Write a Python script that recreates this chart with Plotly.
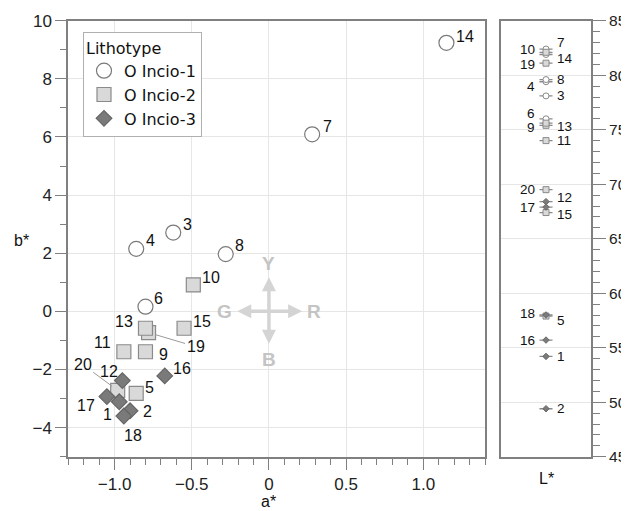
import plotly.graph_objects as go

# ---------------- data ----------------
inc1_ids = ["3", "4", "6", "7", "8", "14"]
inc1_a = [-0.62, -0.86, -0.80, 0.28, -0.28, 1.15]
inc1_b = [2.71, 2.15, 0.16, 6.09, 1.97, 9.24]
inc1_L = [78.1, 79.4, 76.0, 82.4, 79.6, 81.9]

inc2_ids = ["5", "9", "10", "11", "19", "13", "15", "20"]
inc2_a = [-0.86, -0.80, -0.49, -0.94, -0.78, -0.80, -0.55, -0.98]
inc2_b = [-2.82, -1.39, 0.91, -1.39, -0.73, -0.58, -0.58, -2.72]
inc2_L = [57.9, 75.4, 82.1, 74.0, 81.1, 75.6, 67.4, 69.5]

inc3_ids = ["1", "2", "12", "16", "17", "18"]
inc3_a = [-0.97, -0.90, -0.95, -0.675, -1.05, -0.94]
inc3_b = [-3.11, -3.42, -2.38, -2.22, -2.93, -3.60]
inc3_L = [54.2, 49.4, 68.4, 55.7, 67.9, 58.0]

group_names = ["O Incio-1", "O Incio-2", "O Incio-3"]
x_tickvals = [-1.0, -0.5, 0, 0.5, 1.0]
x_ticktext = ["\u22121.0", "\u22120.5", "0", "0.5", "1.0"]

# ---------------- styles ----------------
FONT = "Liberation Sans, Arial, sans-serif"
LFONT = "DejaVu Sans, sans-serif"
AX = "#808080"
GRID = "#e6e6e6"
styles = [
    dict(symbol="circle", size=15, color="white", line=dict(color="#7a7a7a", width=1.2)),
    dict(symbol="square", size=14, color="#d9d9d9", line=dict(color="#8a8a8a", width=1.2)),
    dict(symbol="diamond", size=12, color="#7a7a7a", line=dict(color="#666666", width=1.2)),
]
small_styles = [
    dict(symbol="circle", size=6, color="white", line=dict(color="#8a8a8a", width=1)),
    dict(symbol="square", size=6, color="#d9d9d9", line=dict(color="#8a8a8a", width=1)),
    dict(symbol="diamond", size=5, color="#7a7a7a", line=dict(color="#6a6a6a", width=1)),
]
# label offsets (px) in main plot, relative to marker centre
main_off = {
    "14": (19, -6), "7": (15, -8), "4": (14, -8), "3": (14, -8), "8": (14, -9),
    "10": (18, -7), "6": (13, -8), "13": (-21, -7), "15": (18, -7),
    "11": (-21, -9), "9": (18, 3), "16": (17, -7), "12": (-13, -9),
    "5": (13, -6), "17": (-21, 9), "1": (-12, 13), "2": (17, 1), "18": (9, 19),
}
leader = {"19": (47, 14), "20": (-35, -26)}
# L* panel labels: side and vertical shift (px)
L_off = {
    "7": ("r", -7), "10": ("l", -3), "14": ("r", 4), "19": ("l", 1),
    "8": ("r", 0), "4": ("l", 5), "3": ("r", 0), "6": ("l", -5),
    "9": ("l", 2), "13": ("r", 3), "11": ("r", 0), "20": ("l", 0),
    "12": ("r", -4), "17": ("l", 0), "15": ("r", 2), "18": ("l", -2),
    "5": ("r", 4), "16": ("l", 0), "1": ("r", 0), "2": ("r", 0),
}

# page has an 8px body margin: lay out in page pixels, convert with OFF
OFF = 8
W, H = 629 - OFF, 511 - OFF


def px(xp):
    return (xp - OFF) / W


def py(yp):
    return 1 - (yp - OFF) / H


fig = go.Figure()

groups = [(inc1_ids, inc1_a, inc1_b, inc1_L), (inc2_ids, inc2_a, inc2_b, inc2_L),
          (inc3_ids, inc3_a, inc3_b, inc3_L)]

annotations = []
for gi, (ids, a, b, L) in enumerate(groups):
    fig.add_trace(go.Scatter(x=a, y=b, mode="markers", name=group_names[gi],
                             marker=styles[gi], xaxis="x", yaxis="y",
                             hoverinfo="skip"))
    fig.add_trace(go.Scatter(x=[0] * len(L), y=L, mode="markers", showlegend=False,
                             marker=small_styles[gi], xaxis="x2", yaxis="y2",
                             error_x=dict(type="constant", value=0.145, width=0,
                                          thickness=1.3, color="#8a8a8a"),
                             hoverinfo="skip"))
    for sid, av, bv, lv in zip(ids, a, b, L):
        if sid in leader:
            dx, dy = leader[sid]
            annotations.append(dict(x=av, y=bv, xref="x", yref="y", text=sid,
                                    showarrow=True, arrowhead=0, ax=dx, ay=dy,
                                    arrowcolor="#9a9a9a", arrowwidth=1, standoff=7,
                                    font=dict(size=16, color="#111", family=FONT)))
        else:
            dx, dy = main_off[sid]
            annotations.append(dict(x=av, y=bv, xref="x", yref="y", text=sid,
                                    showarrow=False, xshift=dx, yshift=-dy,
                                    font=dict(size=16, color="#111", family=FONT)))
        side, sh = L_off[sid]
        if side == "l":
            annotations.append(dict(x=0, y=lv, xref="x2", yref="y2", text=sid,
                                    showarrow=False, xanchor="right", xshift=-9,
                                    yshift=-sh, font=dict(size=13.5, color="#111", family=FONT)))
        else:
            annotations.append(dict(x=0, y=lv, xref="x2", yref="y2", text=sid,
                                    showarrow=False, xanchor="left", xshift=9,
                                    yshift=-sh, font=dict(size=13.5, color="#111", family=FONT)))

# colour-direction cross
ARW = "#d4d4d4"
annotations += [
    dict(x=0.215, y=0, ax=-0.215, ay=0, xref="x", yref="y", axref="x", ayref="y",
         text="", showarrow=True, arrowhead=2, arrowside="end+start", arrowsize=0.8,
         arrowwidth=3.5, arrowcolor=ARW),
    dict(x=0, y=1.17, ax=0, ay=-1.17, xref="x", yref="y", axref="x", ayref="y",
         text="", showarrow=True, arrowhead=2, arrowside="end+start", arrowsize=0.8,
         arrowwidth=3.5, arrowcolor=ARW),
]
for t, xx, yy in [("Y", 0, 1.65), ("B", 0, -1.65), ("G", -0.29, 0), ("R", 0.29, 0)]:
    annotations.append(dict(x=xx, y=yy, xref="x", yref="y", text="<b>%s</b>" % t,
                            showarrow=False, font=dict(size=19, color="#c4c4c4", family=FONT)))

# axis titles
annotations += [
    dict(x=px(268), y=py(501), xref="paper", yref="paper", text="a*", showarrow=False,
         xanchor="center", yanchor="middle", font=dict(size=16, color="#111", family=FONT)),
    dict(x=px(21), y=py(240), xref="paper", yref="paper", text="b*", showarrow=False,
         xanchor="center", yanchor="middle", font=dict(size=16, color="#111", family=FONT)),
    dict(x=px(546), y=py(478), xref="paper", yref="paper", text="L*", showarrow=False,
         xanchor="center", yanchor="middle", font=dict(size=16, color="#111", family=FONT)),
]

ydom = [py(456.7), py(20.7)]
tickfont = dict(size=17, color="#222", family=FONT)

fig.update_layout(
    width=W, height=H, margin=dict(l=0, r=0, t=0, b=0),
    paper_bgcolor="white", plot_bgcolor="white",
    font=dict(family=FONT, color="#111"),
    showlegend=True,
    legend=dict(x=px(83), y=py(32), xanchor="left", yanchor="top",
                bgcolor="white", bordercolor="#b0b0b0", borderwidth=1,
                title=dict(text="Lithotype", font=dict(size=16, family=LFONT)),
                font=dict(size=16, family=LFONT), itemwidth=30, tracegroupgap=0),
    xaxis=dict(domain=[px(68.3), px(485)], range=[-1.3, 1.4], tickvals=x_tickvals,
               ticktext=x_ticktext, ticks="outside", ticklen=11, tickwidth=1.3,
               tickcolor=AX, showline=True, linecolor=AX, linewidth=2, mirror=True,
               showgrid=True, gridcolor=GRID, gridwidth=1.2, zeroline=False,
               tickfont=tickfont, anchor="y", automargin=False,
               minor=dict(tickmode="linear", tick0=0, dtick=0.1, ticks="outside",
                          ticklen=6, tickcolor=AX, showgrid=False)),
    yaxis=dict(domain=ydom, range=[-5, 10], tickvals=[-4, -2, 0, 2, 4, 6, 8, 10],
               ticks="outside", ticklen=11, tickwidth=1.3, tickcolor=AX,
               showline=True, linecolor=AX, linewidth=2, mirror=True,
               showgrid=True, gridcolor=GRID, gridwidth=1.2, zeroline=False,
               tickfont=tickfont, anchor="x", automargin=False,
               minor=dict(tickmode="linear", tick0=1, dtick=2, ticks="outside",
                          ticklen=6, tickcolor=AX, showgrid=False)),
    xaxis2=dict(domain=[px(501), px(591)], range=[-1, 1], showticklabels=False,
                ticks="", showline=True, linecolor=AX, linewidth=2, mirror=True,
                showgrid=False, zeroline=False, anchor="y2", automargin=False),
    yaxis2=dict(domain=ydom, range=[45, 85], dtick=5, side="right", anchor="x2",
                ticks="outside", ticklen=13, tickwidth=1.3, tickcolor=AX,
                showline=True, linecolor=AX, linewidth=2, mirror=True,
                showgrid=True, gridcolor=GRID, gridwidth=1.2, zeroline=False,
                tickfont=dict(size=15.5, color="#222", family=FONT), automargin=False,
                minor=dict(tickmode="linear", tick0=45, dtick=1, ticks="outside",
                           ticklen=7, tickcolor=AX, showgrid=False)),
    annotations=annotations,
)

fig.write_html("out.html")
